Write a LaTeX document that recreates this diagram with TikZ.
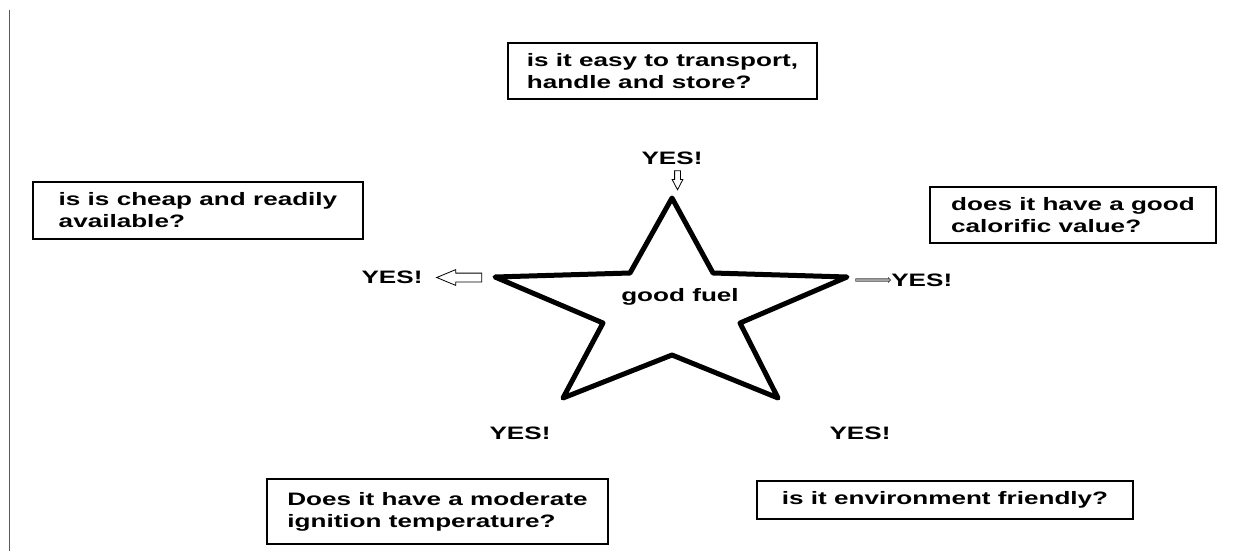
\documentclass[tikz,border=0pt]{standalone}
\usepackage{fontspec}
\setmainfont[FakeStretch=1.45]{Liberation Sans}
\usetikzlibrary{
  positioning,
  shapes.arrows,
}
\tikzstyle{question} = [
  draw,
  rectangle,
  line width=1.2pt,
  align=left,
  inner sep=0pt,
  font=\fontsize{18}{22}\selectfont\bfseries,
]
\tikzstyle{yes} = [
  inner sep=0pt,
  font=\fontsize{18}{22}\selectfont\bfseries,
]
\tikzstyle{blockarrow} = [
  single arrow,
  draw,
  line width=0.8pt,
  inner xsep=0pt,
]

\begin{document}
\begin{tikzpicture}[x=1pt,y=-1pt,node distance=6pt and 6pt]
        \useasboundingbox (0,0) rectangle (1257,551);
        \draw[line width=1.5pt,gray!70!black] (9.5,10) -- (9.5,551);

        % the star
        \draw[line width=5pt,line join=round] (672,198) -- (713,273) -- (847,277) -- (740,323) -- (778,398)
            -- (672,355) -- (563,398) -- (603,323) -- (495,277) -- (630,273) -- cycle;
        \node[yes] (fuel) at (680,297) {good fuel};

        % questions
        \node[question,minimum width=309,minimum height=56] (easy) at (662.5,71) {is it easy to transport,\\handle and store?};
        \node[question,minimum width=330,minimum height=57] (cheap) at (198,210.5) {is is cheap and readily\\available?};
        \node[question,minimum width=286,minimum height=56] (calorific) at (1073,215) {does it have a good\\calorific value?};
        \node[question,minimum width=341,minimum height=65] (ignition) at (437.5,511.5) {Does it have a moderate\\ignition temperature?};
        \node[question,minimum width=376,minimum height=38] (environment) at (945,500) {is it environment friendly?};

        % arrows
        \node[blockarrow,shape border rotate=270,minimum height=19,inner xsep=2.5pt,inner ysep=0pt,single arrow head extend=2.5pt,single arrow tip angle=55] (arrtop) at (677.5,177.5) {};
        \node[blockarrow,shape border rotate=180,minimum height=45,inner ysep=4pt,single arrow head extend=3.5pt,single arrow tip angle=45] (arrleft) at (464.5,277.5) {};
        \node[blockarrow,draw=gray!60!black,fill=gray!70,line width=0.6pt,minimum height=35,inner ysep=1pt,single arrow head extend=1pt] (arrright) at (872.5,280) {};

        % answers
        \node[yes] (yestop) at (672,158) {YES!};
        \node[yes] (yesleft) [left=13pt of arrleft.tip] {YES!};
        \node[yes] (yesright) [right=0pt of arrright.tip] {YES!};
        \node[yes] (yesignition) at (520,433) {YES!};
        \node[yes] (yesenvironment) at (860,433) {YES!};

\end{tikzpicture}
\end{document}
